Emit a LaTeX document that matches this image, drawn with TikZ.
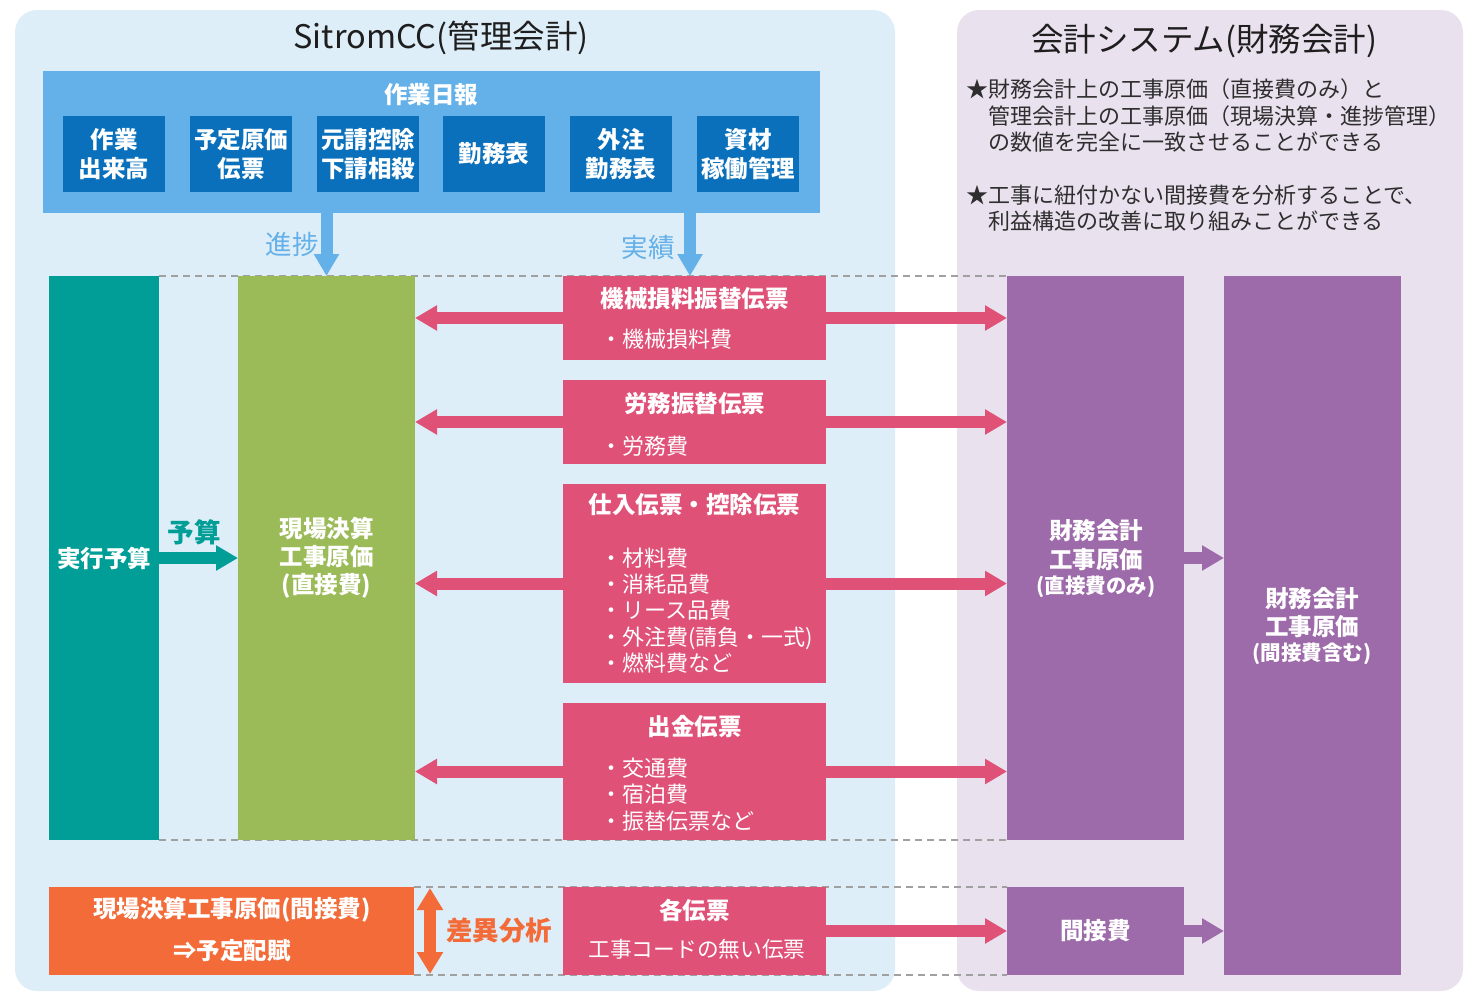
\documentclass[tikz,border=0pt]{standalone}
\usepackage{fontspec}
\setmainfont{Noto Sans CJK JP}
\usetikzlibrary{arrows.meta,backgrounds}
\definecolor{lbg}{HTML}{DEEEF9}
\definecolor{rbg}{HTML}{EAE1EF}
\definecolor{nippoc}{HTML}{64B0E8}
\definecolor{dblue}{HTML}{0A70BB}
\definecolor{tealc}{HTML}{009E96}
\definecolor{greenc}{HTML}{9BBB59}
\definecolor{pinkc}{HTML}{E05177}
\definecolor{purplec}{HTML}{9E6BAA}
\definecolor{orangec}{HTML}{F26B38}
\definecolor{dgrey}{HTML}{2E2E2E}
\definecolor{tgrey}{HTML}{1E1E1E}
\definecolor{dashg}{HTML}{A0A0A0}
\newcommand\myfs[2]{\fontsize{#1pt}{#2pt}\selectfont}
\begin{document}
\begin{tikzpicture}[x=1pt,y=-1pt,
  box/.style={anchor=north west, inner sep=0pt, outer sep=0pt, text=white, align=center},
  wb/.style={text=white, font={\bfseries\myfs{23.5}{28.5}}, align=center, inner sep=0pt},
  wr/.style={text=white, font={\myfs{22}{26.4}}, align=left, inner sep=0pt},
  ttl/.style={text=tgrey, font={\myfs{32.5}{36}}, inner sep=0pt},
  fat/.style={line width=12pt, -{Triangle[width=24pt,length=22pt]}},
  dblarr/.style={line width=12pt, {Triangle[width=25pt,length=22pt]}-{Triangle[width=25pt,length=22pt]}},
  dsh/.style={dashg, line width=1.6pt, dash pattern=on 7pt off 5pt},
]
\useasboundingbox (0,0) rectangle (1476,1002);

% titles
\node[ttl] (t1) at (441,38) {SitromCC(管理会計)};
\node[ttl] (t2) at (1204,41) {会計システム(財務会計)};

% notes
\node[anchor=west, text=dgrey, font={\myfs{22}{26.5}}, align=left, inner sep=0pt] (note1) at (966,115.5)
  {★財務会計上の工事原価（直接費のみ）と\\\hspace*{1em}管理会計上の工事原価（現場決算・進捗管理）\\\hspace*{1em}の数値を完全に一致させることができる};
\node[anchor=west, text=dgrey, font={\myfs{22}{26.5}}, align=left, inner sep=0pt] (note2) at (966,208)
  {★工事に紐付かない間接費を分析することで、\\\hspace*{1em}利益構造の改善に取り組みことができる};

% daily report
\node[box, fill=nippoc, minimum width=777pt, minimum height=142pt] (nippo) at (43,71) {};
\node[wb] (nippot) at (431,95) {作業日報};
\tikzset{db/.style={box, fill=dblue, minimum width=102pt, minimum height=76pt, font={\bfseries\myfs{23.5}{29}}}}
\node[db] (d1) at (63,116) {作業\\出来高};
\node[db] (d2) at (190,116) {予定原価\\伝票};
\node[db] (d3) at (317,116) {元請控除\\下請相殺};
\node[db] (d4) at (443,116) {勤務表};
\node[db] (d5) at (570,116) {外注\\勤務表};
\node[db] (d6) at (697,116) {資材\\稼働管理};

% main columns
\node[box, fill=tealc, minimum width=110pt, minimum height=564pt, font={\bfseries\myfs{23.5}{28}}] (jikko) at (49,276) {実行予算};
\node[box, fill=greenc, minimum width=177pt, minimum height=564pt, font={\bfseries\myfs{23.5}{28}}] (genba) at (238,276) {現場決算\\工事原価\\(直接費)};
\node[box, fill=purplec, minimum width=177pt, minimum height=564pt] (zaimu1) at (1007,276) {};
\node[wb] (zaimu1t) at (1096,545) {財務会計\\工事原価};
\node[text=white, font={\bfseries\myfs{20.5}{26}}, inner sep=0pt] (zaimu1s) at (1096,587) {(直接費のみ)};
\node[box, fill=purplec, minimum width=177pt, minimum height=699pt] (zaimu2) at (1224,276) {};
\node[wb] (zaimu2t) at (1312,612.5) {財務会計\\工事原価};
\node[text=white, font={\bfseries\myfs{20.5}{26}}, inner sep=0pt] (zaimu2s) at (1312,654) {(間接費含む)};
\node[box, fill=purplec, minimum width=177pt, minimum height=88pt, font={\bfseries\myfs{23.5}{28}}] (kansetsu) at (1007,887) {間接費};
\node[box, fill=orangec, minimum width=365pt, minimum height=88pt] (orange) at (49,887) {};
\node[wb] (oranget1) at (232,910) {現場決算工事原価(間接費)};
\node[wb] (oranget2) at (232,951) {⇒予定配賦};

% pink slips
\tikzset{pk/.style={box, fill=pinkc, minimum width=263pt}}
\node[pk, minimum height=84pt] (kikai) at (563,276) {};
\node[wb] (kikait) at (694.5,299) {機械損料振替伝票};
\node[wr, anchor=west] (kikaib) at (600,339) {・機械損料費};
\node[pk, minimum height=84pt] (romu) at (563,380) {};
\node[wb] (romut) at (694.5,404) {労務振替伝票};
\node[wr, anchor=west] (romub) at (600,446) {・労務費};
\node[pk, minimum height=199pt] (shiire) at (563,484) {};
\node[wb] (shiiret) at (694.5,505) {仕入伝票・控除伝票};
\node[wr, anchor=west] (shiireb) at (600,610.5) {・材料費\\・消耗品費\\・リース品費\\・外注費(請負・一式)\\・燃料費など};
\node[pk, minimum height=137pt] (shukkin) at (563,703) {};
\node[wb] (shukkint) at (694.5,727) {出金伝票};
\node[wr, anchor=west] (shukkinb) at (600,794.5) {・交通費\\・宿泊費\\・振替伝票など};
\node[pk, minimum height=88pt] (kaku) at (563,887) {};
\node[wb] (kakut) at (694.5,910) {各伝票};
\node[wr, font={\myfs{21.7}{26}}] (kakub) at (697,949) {工事コードの無い伝票};

% labels
\node[text=nippoc, font={\myfs{26.5}{30}}, inner sep=0pt] (lshin) at (292,244) {進捗};
\node[text=nippoc, font={\myfs{26.5}{30}}, inner sep=0pt] (ljis) at (648,247) {実績};
\node[text=tealc, font={\bfseries\myfs{26.5}{30}}, inner sep=0pt] (lyosan) at (194,532) {予算};
\node[text=orangec, font={\bfseries\myfs{26.5}{30}}, inner sep=0pt] (lsai) at (499,930) {差異分析};

% background panels and dashed guides
\begin{scope}[on background layer]
\fill[white] (0,0) rectangle (1476,1002);
\fill[lbg, rounded corners=22pt] (15,10) rectangle (895,991);
\fill[rbg, rounded corners=22pt] (957,10) rectangle (1463,991);
\draw[dsh] (jikko.north east) -- (zaimu1.north west);
\draw[dsh] (jikko.south east) -- (zaimu1.south west);
\draw[dsh] (orange.north east) -- (kansetsu.north west);
\draw[dsh] (orange.south east) -- (kansetsu.south west);
\end{scope}

% arrows
\coordinate (jisA) at (690,213);
\coordinate (jisB) at (690,276);
\draw[fat, nippoc] (nippo.south -| genba.north) -- (genba.north);
\draw[fat, nippoc] (jisA) -- (jisB);
\draw[fat, tealc] (jikko.east) -- (genba.west);
\foreach \n in {kikai,romu,shiire,shukkin}{
  \draw[fat, pinkc] (\n.west) -- (\n.west -| genba.east);
  \draw[fat, pinkc] (\n.east) -- (\n.east -| zaimu1.west);
}
\draw[fat, pinkc] (kaku.east) -- (kansetsu.west);
\draw[fat, purplec] (zaimu1.east) -- (zaimu1.east -| zaimu2.west);
\draw[fat, purplec] (kansetsu.east) -- (kansetsu.east -| zaimu2.west);
\coordinate (saiA) at (430,888);
\coordinate (saiB) at (430,974);
\draw[dblarr, orangec] (saiA) -- (saiB);
\end{tikzpicture}
\end{document}
